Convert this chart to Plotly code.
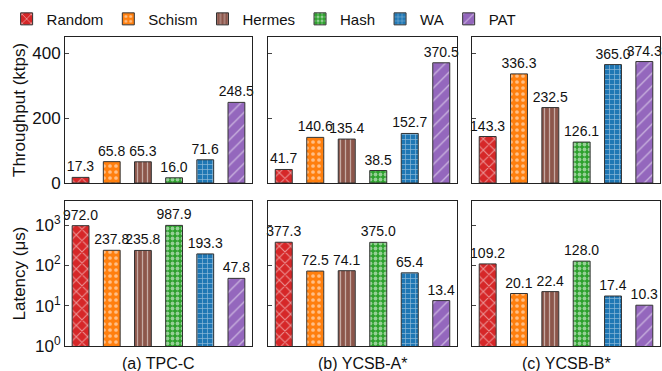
import plotly.graph_objects as go

schemes = ["Random", "Schism", "Hermes", "Hash", "WA", "PAT"]
colors = ["#d62728", "#ff7f0e", "#8c564b", "#2ca02c", "#1f77b4", "#9467bd"]
patterns = ["x", ".", "|", ".", "+", "/"]
pat_sizes = [8, 6, 5, 5, 5, 9]
pat_solid = [0.25, 0.3, 0.25, 0.45, 0.25, 0.15]

workloads = ["(a) TPC-C", "(b) YCSB-A*", "(c) YCSB-B*"]
throughput = [
    [17.3, 65.8, 65.3, 16.0, 71.6, 248.5],
    [41.7, 140.6, 135.4, 38.5, 152.7, 370.5],
    [143.3, 336.3, 232.5, 126.1, 365.0, 374.3],
]
latency = [
    [972.0, 237.8, 235.8, 987.9, 193.3, 47.8],
    [377.3, 72.5, 74.1, 375.0, 65.4, 13.4],
    [109.2, 20.1, 22.4, 128.0, 17.4, 10.3],
]

W, H = 662, 371
FONT = "Liberation Sans, Arial, sans-serif"
xdom_px = [(65, 252), (268, 457), (472, 660)]
top_px = (37, 183)
bot_px = (201, 346)


def xd(p):
    return [p[0] / W, p[1] / W]


def yd(p):
    return [1 - p[1] / H, 1 - p[0] / H]


fig = go.Figure()
layout = {}
for row, (data, ydom) in enumerate([(throughput, top_px), (latency, bot_px)]):
    for col in range(3):
        n = row * 3 + col + 1
        xa = "x" if n == 1 else f"x{n}"
        ya = "y" if n == 1 else f"y{n}"
        for k, s in enumerate(schemes):
            fig.add_trace(go.Bar(
                x=[s], y=[data[col][k]], name=s, legendgroup=s,
                showlegend=(n == 1), xaxis=xa, yaxis=ya, width=0.54,
                marker=dict(color=colors[k], line=dict(color="#333333", width=1),
                            pattern=dict(shape=patterns[k], fgcolor="white",
                                         bgcolor=colors[k], size=pat_sizes[k],
                                         solidity=pat_solid[k], fillmode="overlay")),
                texttemplate="%{y:.1f}", textposition="outside", cliponaxis=False,
                constraintext="none",
                textfont=dict(size=14, color="#111111", family=FONT),
            ))
        xkey = "xaxis" if n == 1 else f"xaxis{n}"
        ykey = "yaxis" if n == 1 else f"yaxis{n}"
        layout[xkey] = dict(domain=xd(xdom_px[col]), anchor=ya, type="category",
                            categoryorder="array", categoryarray=schemes,
                            range=[-0.5, 5.5], showticklabels=False, ticks="",
                            showline=True, mirror=True, linecolor="#222222",
                            linewidth=1, showgrid=False, zeroline=False, fixedrange=True)
        if row == 0:
            layout[ykey] = dict(domain=yd(ydom), anchor=xa, range=[0, 450],
                                tickvals=[0, 200, 400], ticks="inside", ticklen=4,
                                tickcolor="#444444",
                                showticklabels=(col == 0), showline=True, mirror=True,
                                linecolor="#222222", linewidth=1, showgrid=False,
                                zeroline=False, tickfont=dict(size=17, family=FONT, color="#111111"))
        else:
            layout[ykey] = dict(domain=yd(ydom), anchor=xa, type="log", range=[0, 3.6],
                                tickvals=[1, 10, 100, 1000],
                                ticktext=["10<sup>0</sup>", "10<sup>1</sup>", "10<sup>2</sup>", "10<sup>3</sup>"],
                                ticks="inside", ticklen=4, tickcolor="#444444",
                                showticklabels=(col == 0), showline=True, mirror=True,
                                linecolor="#222222", linewidth=1, showgrid=False,
                                zeroline=False, tickfont=dict(size=17, family=FONT, color="#111111"))

annotations = []
for col, wl in enumerate(workloads):
    cx = (xdom_px[col][0] + xdom_px[col][1]) / 2 / W
    annotations.append(dict(text=wl, x=cx, y=1 - 363 / H, xref="paper", yref="paper",
                            showarrow=False, xanchor="center", yanchor="middle",
                            font=dict(size=16, family=FONT, color="#111111")))
annotations.append(dict(text="Throughput (ktps)", textangle=-90, x=19 / W,
                        y=1 - (top_px[0] + top_px[1]) / 2 / H, xref="paper", yref="paper",
                        showarrow=False, xanchor="center", yanchor="middle",
                        font=dict(size=17, family=FONT, color="#111111")))
annotations.append(dict(text="Latency (μs)", textangle=-90, x=19 / W,
                        y=1 - (bot_px[0] + bot_px[1]) / 2 / H, xref="paper", yref="paper",
                        showarrow=False, xanchor="center", yanchor="middle",
                        font=dict(size=17, family=FONT, color="#111111")))

fig.update_layout(
    width=W, height=H, margin=dict(l=0, r=0, t=0, b=0, autoexpand=False),
    paper_bgcolor="white", plot_bgcolor="white", barmode="overlay",
    font=dict(family=FONT, color="#111111"),
    legend=dict(orientation="h", x=0.01, y=0.993, xanchor="left", yanchor="top",
                font=dict(size=15, family=FONT, color="#111111"),
                itemwidth=30, tracegroupgap=0, bgcolor="rgba(0,0,0,0)"),
    annotations=annotations,
    **layout,
)
fig.write_html("out.html", config={"displayModeBar": False},
               post_script="document.body.style.margin='0';document.body.style.overflow='hidden';")
